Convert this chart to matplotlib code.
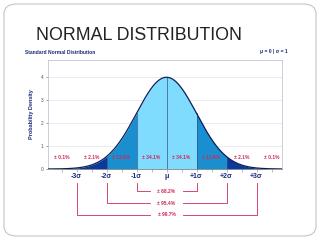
import numpy as np
import matplotlib.pyplot as plt
from matplotlib.patches import FancyBboxPatch

# chart values
mu = 0.0
sigma = 1.0
density_scale = 10.0  # y axis is shown as 10 x pdf (peak ~4)
band_edges = [-4, -3, -2, -1, 0, 1, 2, 3, 4]
band_colors = ['#00135e', '#0b3a9c', '#1a8fd0', '#80dcff',
               '#80dcff', '#1a8fd0', '#0b3a9c', '#00135e']
band_labels = ['± 0.1%', '± 2.1%', '± 13.6%', '± 34.1%',
               '± 34.1%', '± 13.6%', '± 2.1%', '± 0.1%']
tick_pos = [-3, -2, -1, 0, 1, 2, 3]
tick_labels = ['-3σ', '-2σ', '-1σ', 'μ', '+1σ', '+2σ', '+3σ']
bracket_k = [1, 2, 3]
bracket_labels = ['± 68.2%', '± 95.4%', '± 99.7%']

navy = '#1b2a7a'
red = '#d02a58'

plt.rcParams['font.family'] = ['Liberation Sans', 'DejaVu Sans']

fig = plt.figure(figsize=(3.2, 2.4), dpi=100)
fig.patch.set_facecolor('white')

# slide frame
frame = FancyBboxPatch((4 / 320, 4 / 240), 312 / 320, 232 / 240,
                       boxstyle='round,pad=0,rounding_size=0.04',
                       transform=fig.transFigure, fc='none', ec='#c4c4c4', lw=0.8)
fig.patches.append(frame)

fig.text(36 / 320, 1 - 36 / 240, 'NORMAL DISTRIBUTION', fontsize=12.8,
         color='#222222', va='center', ha='left')
fig.text(25 / 320, 1 - 52 / 240, 'Standard Normal Distribution', fontsize=3.6,
         color=navy, weight='bold', va='center', ha='left')
fig.text(288 / 320, 1 - 52 / 240, 'μ = 0 | σ = 1', fontsize=3.6,
         color=navy, weight='bold', va='center', ha='right')

ax = fig.add_axes([48 / 320, 1 - 169 / 240, 234 / 320, 109 / 240])
x = np.linspace(-4, 4, 801)
y = density_scale * np.exp(-0.5 * ((x - mu) / sigma) ** 2) / (sigma * np.sqrt(2 * np.pi))

for i in range(len(band_edges) - 1):
    m = (x >= band_edges[i]) & (x <= band_edges[i + 1])
    ax.fill_between(x[m], 0, y[m], color=band_colors[i], lw=0, zorder=2)
    ax.text((band_edges[i] + band_edges[i + 1]) / 2, 0.48, band_labels[i],
            fontsize=3.6, color=red, weight='bold', ha='center', va='center', zorder=5)

for b in [-2, -1, 0, 1, 2]:
    h = density_scale * np.exp(-0.5 * b ** 2) / np.sqrt(2 * np.pi)
    ax.plot([b, b], [0, h], color='#3a4f8f', lw=0.5, zorder=3)

ax.plot(x, y, color='#0c1e5a', lw=0.9, zorder=4)

ax.set_xlim(-3.95, 3.85)
ax.set_ylim(0, 4.74)
ax.set_yticks([0, 1, 2, 3, 4])
ax.yaxis.grid(True, color='#e6e6ee', lw=0.6)
ax.set_axisbelow(True)
ax.tick_params(axis='y', labelsize=3.5, colors='#555555', length=1.5, width=0.4, pad=1.5)

ax.set_xticks(np.arange(-3.5, 4.0, 0.5))
ax.set_xticklabels([''] * len(np.arange(-3.5, 4.0, 0.5)))
ax.tick_params(axis='x', length=2, width=0.4, color='#888888', pad=1)
for p, lab in zip(tick_pos, tick_labels):
    ax.text(p, -0.33, lab, fontsize=5, color=navy, weight='bold',
            ha='center', va='center', clip_on=False)

for sp in ax.spines.values():
    sp.set_color('#c4c4d4')
    sp.set_linewidth(0.6)
ax.spines['bottom'].set_color('#888888')

ax.set_ylabel('Probability Density', fontsize=4, color=navy, weight='bold', labelpad=5)

# brackets below the axis
for k, lab, ly in zip(bracket_k, bracket_labels, [-0.96, -1.48, -2.0]):
    top = -0.6
    ax.plot([-k, -k, -0.55], [top, ly, ly], color=red, lw=0.6, clip_on=False)
    ax.plot([0.55, k, k], [ly, ly, top], color=red, lw=0.6, clip_on=False)
    ax.text(0, ly, lab, fontsize=3.6, color=red, weight='bold',
            ha='center', va='center', clip_on=False)

fig.savefig('out.png', dpi=100)
